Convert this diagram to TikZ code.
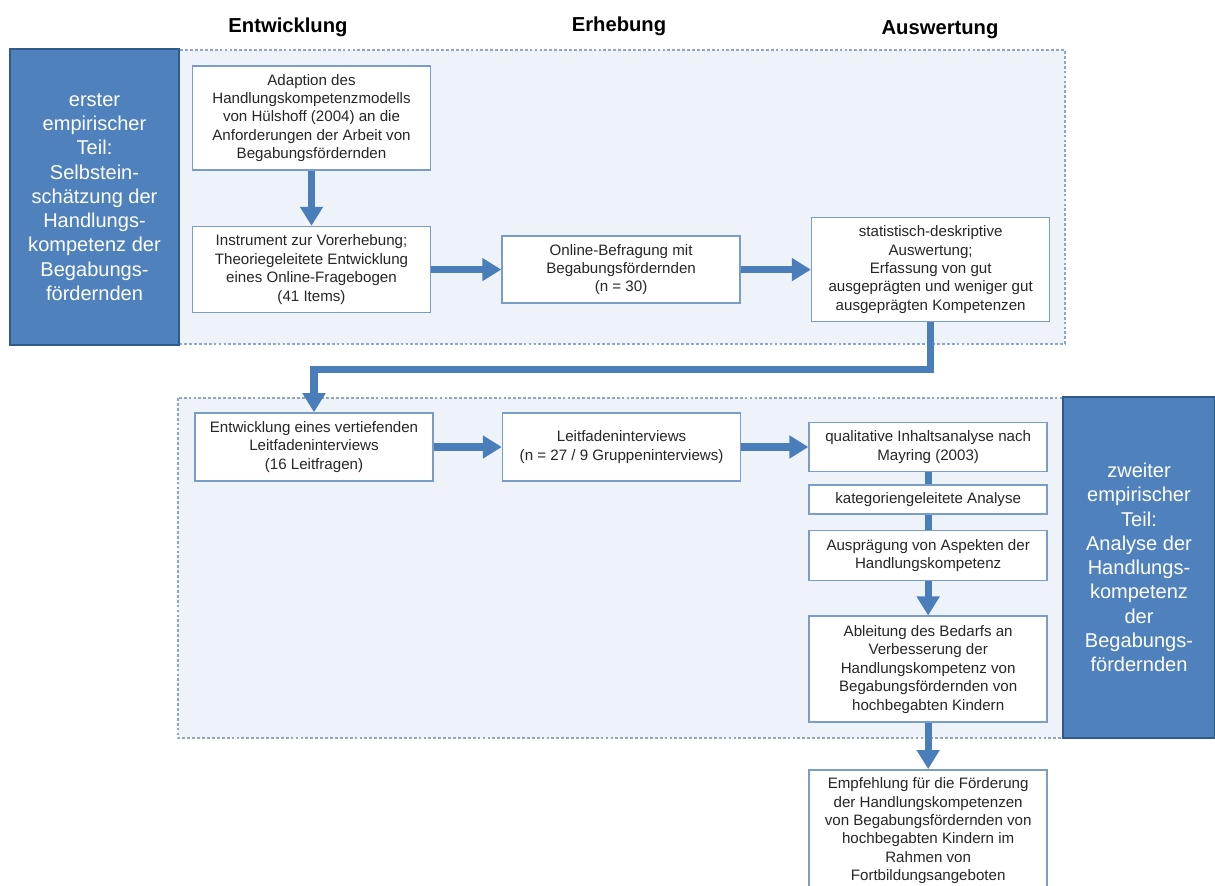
\documentclass[tikz,border=0pt]{standalone}
\usepackage{fontspec}
\setmainfont{Liberation Sans}
\usetikzlibrary{arrows.meta,positioning}
\definecolor{partblue}{HTML}{4F81BD}
\definecolor{partline}{HTML}{2F5A8E}
\definecolor{panelfill}{HTML}{EEF2F9}
\definecolor{panelline}{HTML}{8FA6C6}
\definecolor{boxline}{HTML}{7A9CC8}
\definecolor{arrblue}{HTML}{4A7EBB}

\begin{document}
\begin{tikzpicture}[
    box/.style={draw=boxline,line width=0.9pt,fill=white,minimum width=4.76cm,align=center,inner sep=2pt,text=black!85,font=\fontsize{8.6}{10.5}\selectfont},
    part/.style={draw=partline,line width=1.3pt,fill=partblue,align=center,text=white,font=\fontsize{11.4}{13.8}\selectfont},
    phase/.style={font=\bfseries\fontsize{11.5}{13}\selectfont},
    panel/.style={draw=panelline,line width=0.6pt,dash pattern=on 1.6pt off 1.2pt,fill=panelfill},
    arr/.style={draw=arrblue,line width=4pt,-{Triangle[width=0.44cm,length=0.38cm]}},
    link/.style={draw=arrblue,line width=4pt}
  ]
  \useasboundingbox (0,0) rectangle (24.3,-17.72);

  % phase headings
  \node[phase] (hEntw) at (5.76,-0.54) {Entwicklung};
  \node[phase] (hErh) at (12.38,-0.52) {Erhebung};
  \node[phase] (hAusw) at (18.8,-0.6) {Auswertung};

  % shaded panels of the two parts
  \draw[panel] (3.56,-1.0) rectangle (21.3,-6.88);
  \draw[panel] (3.56,-7.96) rectangle (21.3,-14.76);

  \node[part,minimum width=3.38cm,minimum height=5.92cm] (teil1) at (1.89,-3.94)
  {erster\\empirischer\\Teil:\\Selbstein-\\schätzung der\\Handlungs-\\kompetenz der\\Begabungs-\\fördernden};

  \node[part,minimum width=3.04cm,minimum height=6.82cm] (teil2) at (22.78,-11.35)
  {zweiter\\empirischer\\Teil:\\Analyse der\\Handlungs-\\kompetenz\\der\\Begabungs-\\fördernden};

  % first part
  \node[box,minimum height=2.08cm] (adapt) at (6.23,-2.36)
  {Adaption des\\Handlungskompetenzmodells\\von Hülshoff (2004) an die\\Anforderungen der Arbeit von\\Begabungsfördernden};

  \node[box,minimum height=1.72cm,below=1.1cm of adapt] (instr)
  {Instrument zur Vorerhebung;\\Theoriegeleitete Entwicklung\\eines Online-Fragebogen\\(41 Items)};

  \node[box,minimum height=1.34cm,right=1.4cm of instr] (online)
  {Online-Befragung mit\\Begabungsfördernden\\(n = 30)};

  \node[box,minimum height=2.08cm,right=1.4cm of online] (stat)
  {statistisch-deskriptive\\Auswertung;\\Erfassung von gut\\ausgeprägten und weniger gut\\ausgeprägten Kompetenzen};

  % second part
  \node[box,minimum height=1.36cm] (leitf) at (6.28,-8.94)
  {Entwicklung eines vertiefenden\\Leitfadeninterviews\\(16 Leitfragen)};

  \node[box,minimum height=1.36cm,right=1.36cm of leitf] (interv)
  {Leitfadeninterviews\\(n = 27 / 9 Gruppeninterviews)};

  \node[box,minimum height=0.98cm,right=1.34cm of interv] (quali)
  {qualitative Inhaltsanalyse nach\\Mayring (2003)};

  \node[box,minimum height=0.58cm,below=0.24cm of quali] (kateg)
  {kategoriengeleitete Analyse};

  \node[box,minimum height=1.0cm,below=0.3cm of kateg] (auspr)
  {Ausprägung von Aspekten der\\Handlungskompetenz};

  \node[box,minimum height=2.12cm,below=0.68cm of auspr] (ableit)
  {Ableitung des Bedarfs an\\Verbesserung der\\Handlungskompetenz von\\Begabungsfördernden von\\hochbegabten Kindern};

  \node[box,minimum height=2.44cm,below=0.92cm of ableit] (empf)
  {Empfehlung für die Förderung\\der Handlungskompetenzen\\von Begabungsfördernden von\\hochbegabten Kindern im\\Rahmen von\\Fortbildungsangeboten};

  % connectors
  \draw[arr] (adapt) -- (instr);
  \draw[arr] (instr) -- (online);
  \draw[arr] (online) -- (stat);
  \draw[arr] (stat.south) -- ++(0,-0.94) -| (leitf.north);
  \draw[arr] (leitf) -- (interv);
  \draw[arr] (interv) -- (quali);
  \draw[link] (quali) -- (kateg);
  \draw[link] (kateg) -- (auspr);
  \draw[arr] (auspr) -- (ableit);
  \draw[arr] (ableit) -- (empf);
\end{tikzpicture}
\end{document}
